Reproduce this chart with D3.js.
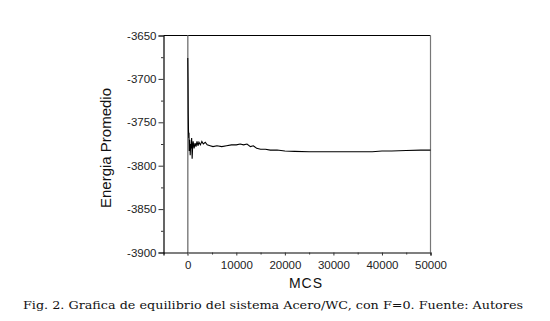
<!DOCTYPE html>
<html>
<head>
<meta charset="utf-8">
<script src="https://unpkg.com/d3@7/dist/d3.min.js"></script>
<style>
  body { margin: 0; background: #fff; }
  svg { display: block; }
</style>
</head>
<body>
<div id="chart"></div>
<script>
// Data
const mcs = [0, 50, 100, 150, 200, 250, 300, 400, 500, 600, 700, 800, 900, 1000, 1100, 1300, 1500, 1700, 1900, 2100, 2300, 2600, 2900, 3200, 3600, 4000, 4600, 5200, 6000, 7000, 8000, 9000, 10000, 10800, 11500, 12200, 12900, 13500, 14200, 15000, 16000, 17000, 18400, 20000, 22000, 25000, 30000, 35000, 38000, 40000, 42000, 45000, 48000, 50000];
const energy = [-3676, -3700, -3740, -3760, -3768, -3762, -3783, -3770, -3788, -3775, -3780, -3768, -3792, -3778, -3772, -3780, -3774, -3778, -3772, -3777, -3773, -3776, -3772, -3775, -3773, -3776, -3777, -3778, -3777, -3778, -3777, -3776, -3776, -3775, -3776, -3775, -3778, -3777, -3780, -3781, -3781, -3782, -3782, -3783, -3783.5, -3784, -3784, -3784, -3784, -3783, -3783, -3782.5, -3782, -3782];
const xTicks = [0, 10000, 20000, 30000, 40000, 50000];
const yTicks = [-3650, -3700, -3750, -3800, -3850, -3900];
const caption = "Fig. 2. Grafica de equilibrio del sistema Acero/WC, con F=0. Fuente: Autores";

const W = 550, H = 321;
const box = { left: 163.5, right: 430.5, top: 35.5, bottom: 252.5 };

const svg = d3.select("#chart")
  .append("svg")
  .attr("width", W)
  .attr("height", H);

const x = d3.scaleLinear().domain([-5000, 50000]).range([box.left, box.right]);
const y = d3.scaleLinear().domain([-3900, -3650]).range([box.bottom, box.top]);

// frame: top black, right gray
svg.append("line")
  .attr("x1", box.left).attr("x2", box.right)
  .attr("y1", box.top).attr("y2", box.top)
  .attr("stroke", "#000").attr("stroke-width", 1.2);
svg.append("line")
  .attr("x1", box.right).attr("x2", box.right)
  .attr("y1", box.top).attr("y2", box.bottom)
  .attr("stroke", "#777").attr("stroke-width", 1.2);

// gray line at MCS = 0
svg.append("line")
  .attr("x1", x(0)).attr("x2", x(0))
  .attr("y1", box.top).attr("y2", box.bottom + 3)
  .attr("stroke", "#888").attr("stroke-width", 1.6);

// y axis
const yAxis = d3.axisLeft(y)
  .tickValues(yTicks)
  .tickSize(5)
  .tickPadding(2)
  .tickFormat(d => String(d));
const gy = svg.append("g")
  .attr("transform", `translate(${box.left},0)`)
  .call(yAxis);

const yMinor = d3.range(-3875, -3650, 50);
svg.append("g")
  .attr("transform", `translate(${box.left},0)`)
  .call(d3.axisLeft(y).tickValues(yMinor).tickSize(2.5).tickFormat(""))
  .call(g => g.select(".domain").remove());

// x axis
const xAxis = d3.axisBottom(x)
  .tickValues(xTicks)
  .tickSize(3)
  .tickPadding(5)
  .tickFormat(d => String(d));
const gx = svg.append("g")
  .attr("transform", `translate(0,${box.bottom})`)
  .call(xAxis);

const xMinor = d3.range(5000, 50000, 10000);
svg.append("g")
  .attr("transform", `translate(0,${box.bottom})`)
  .call(d3.axisBottom(x).tickValues(xMinor).tickSize(2).tickFormat(""))
  .call(g => g.select(".domain").remove());

svg.selectAll(".domain").attr("stroke", "#000").attr("stroke-width", 1.2);
svg.selectAll(".tick line").attr("stroke", "#333");
svg.selectAll(".tick text")
  .attr("font-family", "Liberation Sans, Arial, sans-serif")
  .attr("font-size", 11.5)
  .attr("fill", "#222");
gx.selectAll(".tick").filter(d => d === 0).select("line").attr("stroke", "#888");

// data line
const pts = mcs.map((m, i) => [m, energy[i]]);
svg.append("path")
  .datum(pts)
  .attr("fill", "none")
  .attr("stroke", "#000")
  .attr("stroke-width", 1.1)
  .attr("d", d3.line().x(d => x(d[0])).y(d => y(d[1])));

// axis titles
svg.append("text")
  .attr("transform", `translate(111,${(box.top + box.bottom) / 2 + 4}) rotate(-90)`)
  .attr("text-anchor", "middle")
  .attr("font-family", "Liberation Sans, Arial, sans-serif")
  .attr("font-size", 15)
  .attr("fill", "#111")
  .text("Energia  Promedio");

svg.append("text")
  .attr("x", 306)
  .attr("y", 288)
  .attr("text-anchor", "middle")
  .attr("font-family", "Liberation Sans, Arial, sans-serif")
  .attr("font-size", 14)
  .attr("letter-spacing", 1)
  .attr("fill", "#111")
  .text("MCS");

svg.append("text")
  .attr("x", 23)
  .attr("y", 309)
  .attr("font-family", "DejaVu Serif, serif")
  .attr("font-size", 11.5)
  .attr("textLength", 500)
  .attr("lengthAdjust", "spacingAndGlyphs")
  .attr("fill", "#111")
  .text(caption);
</script>
</body>
</html>
